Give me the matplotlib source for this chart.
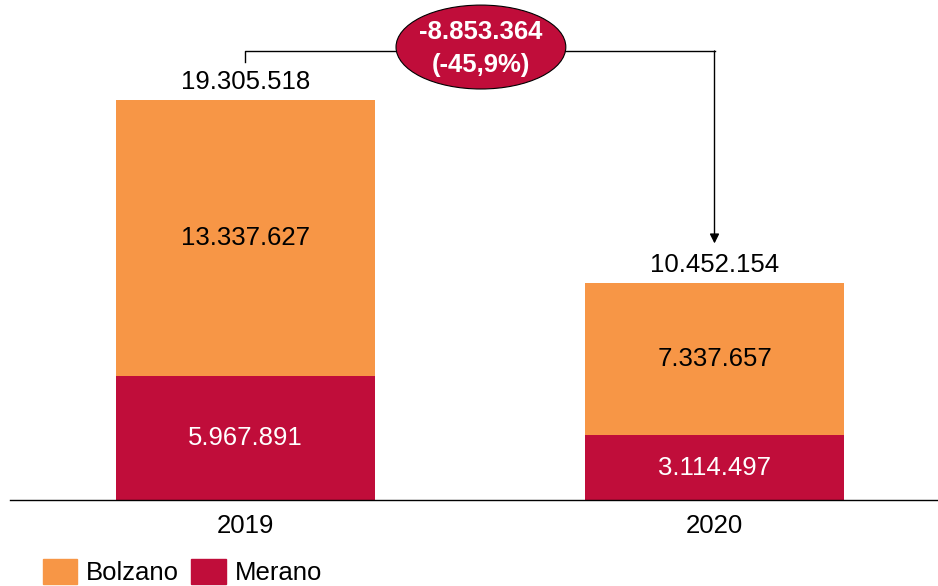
import numpy as np
import matplotlib.pyplot as plt
from matplotlib.patches import Ellipse, Patch

plt.rcParams['font.family'] = ['Liberation Sans', 'DejaVu Sans']

# Data
years = ['2019', '2020']
merano = np.array([5967891, 3114497])
bolzano = np.array([13337627, 7337657])
totals = merano + bolzano

orange = '#F79646'
red = '#C00D3A'

def fmt(v):
    return f"{v:,.0f}".replace(',', '.')

fig = plt.figure(figsize=(9.38, 5.86), dpi=100)
ax = fig.add_axes([10/938, 86/586, 928/938, 500/586])

x = np.arange(len(years))
w = 0.552
ax.bar(x, merano / 1e6, w, color=red)
ax.bar(x, bolzano / 1e6, w, bottom=merano / 1e6, color=orange)

fs = 18.5
for i in range(len(years)):
    ax.text(x[i], merano[i] / 2e6, fmt(merano[i]), ha='center', va='center',
            color='white', fontsize=fs)
    ax.text(x[i], (merano[i] + bolzano[i] / 2) / 1e6, fmt(bolzano[i]),
            ha='center', va='center', color='black', fontsize=fs)
    ax.text(x[i], totals[i] / 1e6 + 0.3, fmt(totals[i]), ha='center',
            va='bottom', color='black', fontsize=fs)

# difference bracket
diff = totals[1] - totals[0]
pct = diff / totals[0] * 100
top = 21.67
ax.plot([x[0], x[0], x[1]], [totals[0] / 1e6 + 1.83, top, top], color='black', lw=1)
ax.annotate('', xy=(x[1], totals[1] / 1e6 + 1.93), xytext=(x[1], top),
            arrowprops=dict(arrowstyle='-|>', color='black', lw=1, mutation_scale=14,
                            shrinkA=0, shrinkB=0))
ax.add_patch(Ellipse((0.502, 21.86), 0.362, 4.05, facecolor=red,
                     edgecolor='black', lw=0.8, zorder=5))
pct_txt = f"{pct:.1f}".replace('.', ',')
ax.text(0.502, 21.8, f"{fmt(diff)}\n({pct_txt}%)",
        ha='center', va='center', color='white', fontsize=fs, fontweight='bold',
        zorder=6, linespacing=1.45)

ax.set_xlim(-0.502, 1.4765)
ax.set_ylim(0, 24.13)
ax.set_xticks(x)
ax.set_xticklabels(years, fontsize=fs)
ax.tick_params(axis='x', length=0, pad=10)
ax.set_yticks([])
for s in ['top', 'right', 'left']:
    ax.spines[s].set_visible(False)
ax.spines['bottom'].set_linewidth(1)

handles = [Patch(color=orange, label='Bolzano'), Patch(color=red, label='Merano')]
fig.legend(handles=handles, loc='lower left', bbox_to_anchor=(0.0236, -0.0335), ncol=2,
           frameon=False, fontsize=fs, handlelength=1.35, handleheight=1.15,
           handletextpad=0.35, columnspacing=0.45, borderpad=0.3)

fig.savefig('out.png', dpi=100)
